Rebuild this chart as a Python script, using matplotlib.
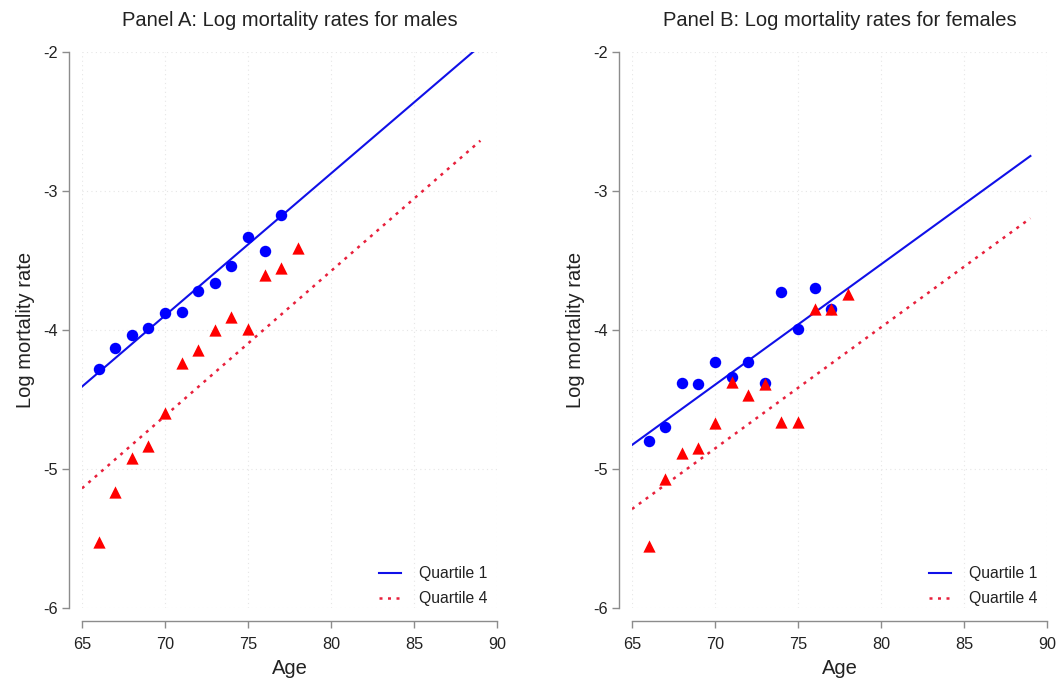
import matplotlib
matplotlib.use("Agg")
import matplotlib.pyplot as plt

plt.rcParams["font.family"] = ["Liberation Sans", "DejaVu Sans"]

ages_q1 = [66, 67, 68, 69, 70, 71, 72, 73, 74, 75, 76, 77]
ages_q4 = [66, 67, 68, 69, 70, 71, 72, 73, 74, 75, 76, 77, 78]

male_q1 = [-4.28, -4.125, -4.034, -3.981, -3.873, -3.868, -3.715, -3.657,
           -3.537, -3.327, -3.427, -3.170]
male_q4 = [-5.523, -5.163, -4.921, -4.830, -4.595, -4.233, -4.140, -3.998,
           -3.906, -3.993, -3.602, -3.550, -3.410]

female_q1 = [-4.794, -4.693, -4.381, -4.386, -4.230, -4.338, -4.226, -4.381,
             -3.722, -3.990, -3.693, -3.849]
female_q4 = [-5.552, -5.070, -4.885, -4.845, -4.670, -4.374, -4.466, -4.389,
             -4.659, -4.659, -3.849, -3.849, -3.739]

# fitted lines, read at both ends
fit_ages = [65, 89]
male_q1_fit = [-4.405, -1.952]
male_q4_fit = [-5.137, -2.636]
female_q1_fit = [-4.825, -2.746]
female_q4_fit = [-5.286, -3.194]

x_ticks = [65, 70, 75, 80, 85, 90]
y_ticks = [-2, -3, -4, -5, -6]

panels = [
    ("Panel A: Log mortality rates for males", male_q1, male_q4, male_q1_fit, male_q4_fit),
    ("Panel B: Log mortality rates for females", female_q1, female_q4, female_q1_fit, female_q4_fit),
]

W, H = 1062, 683
fig = plt.figure(figsize=(W / 100, H / 100), dpi=100)

lefts = [82, 632]
axes_w = 415
top_px, bottom_px = 52.3, 608.3

for left_px, (title, q1, q4, q1_fit, q4_fit) in zip(lefts, panels):
    ax = fig.add_axes([left_px / W, 1 - bottom_px / H, axes_w / W, (bottom_px - top_px) / H])

    ax.plot(fit_ages, q1_fit, color="#1010e8", lw=1.5, label="Quartile 1")
    ax.plot(fit_ages, q4_fit, color="#e8203c", lw=1.8, linestyle=(0, (1.2, 2.2)), label="Quartile 4")
    ax.scatter(ages_q1, q1, marker="o", s=68, color="#0000ff", zorder=3, linewidths=0)
    ax.scatter(ages_q4, q4, marker="^", s=78, color="#ff0000", zorder=3, linewidths=0)

    ax.set_xlim(65, 90)
    ax.set_ylim(-6, -2)
    ax.set_xticks(x_ticks)
    ax.set_yticks(y_ticks)
    ax.set_yticklabels([str(v) for v in y_ticks])

    ax.grid(True, color="#e6e6e6", linestyle=(0, (1, 3)), linewidth=0.8)
    ax.set_axisbelow(True)

    for side in ("top", "right"):
        ax.spines[side].set_visible(False)
    for side in ("left", "bottom"):
        ax.spines[side].set_position(("outward", 9.5))
        ax.spines[side].set_color("#8c8c8c")
        ax.spines[side].set_linewidth(1.0)
    ax.spines["left"].set_bounds(-6, -2)
    ax.spines["bottom"].set_bounds(65, 90)
    ax.tick_params(colors="#8c8c8c", labelcolor="#222222", labelsize=11.7, length=5, width=1.0)
    ax.tick_params(axis="y", pad=3)
    ax.tick_params(axis="x", pad=6)

    ax.set_title(title, fontsize=14.5, color="#222222", pad=19)
    ax.set_xlabel("Age", fontsize=14.5, color="#222222", labelpad=5)
    ax.set_ylabel("Log mortality rate", fontsize=14.5, color="#222222", labelpad=6)

    ax.legend(loc="lower right", frameon=False, fontsize=11.3, handlelength=1.4,
              handletextpad=1.15, labelspacing=0.62, bbox_to_anchor=(1.0, -0.013),
              borderaxespad=0.2, labelcolor="#222222")

fig.savefig("out.png", dpi=100)
